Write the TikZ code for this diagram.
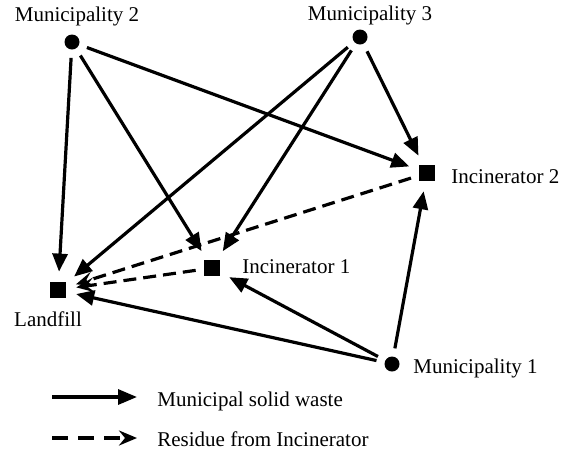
\documentclass[tikz,border=0pt]{standalone}
\usepackage{fontspec}
\setmainfont{Liberation Serif}
\usetikzlibrary{arrows.meta}
\begin{document}
\begin{tikzpicture}[x=0.5pt,y=-0.5pt,
  every node/.style={font=\fontsize{10.5}{12.6}\selectfont},
  dot/.style={circle,fill=black,minimum size=7.5pt,inner sep=0pt},
  sq/.style={rectangle,fill=black,minimum size=8pt,inner sep=0pt},
  lbl/.style={inner sep=0pt},
  msw/.style={line width=1.6pt,-{Triangle[length=9pt,width=7.5pt]},shorten >=5pt,shorten <=4pt},
  res/.style={line width=1.6pt,dash pattern=on 6.5pt off 3.5pt,-{Stealth[length=9pt,width=7.5pt,inset=4pt]},shorten >=5pt,shorten <=4pt}]
\useasboundingbox (0,0) rectangle (566,451);
% nodes
\node[dot] (m2) at (72,42) {};
\node[dot] (m3) at (360,37) {};
\node[dot] (m1) at (392,364) {};
\node[sq] (i2) at (427,173) {};
\node[sq] (i1) at (212,268) {};
\node[sq] (lf) at (58,290) {};
% labels
\node[lbl,anchor=base] (m2l) at (77,21) {Municipality 2};
\node[lbl,anchor=base] (m3l) at (370,20) {Municipality 3};
\node[lbl,anchor=base west] (m1l) at (413,373) {Municipality 1};
\node[lbl,anchor=base west] (i2l) at (451,183) {Incinerator 2};
\node[lbl,anchor=base west] (i1l) at (242,273) {Incinerator 1};
\node[lbl,anchor=base] (lfl) at (48,326) {Landfill};
% solid flows
\draw[msw] (m2) -- (lf);
\draw[msw] (m2) -- (i1);
\draw[msw] (m2) -- (i2);
\draw[msw] (m3) -- (lf);
\draw[msw] (m3) -- (i1);
\draw[msw] (m3) -- (i2);
\draw[msw] (m1) -- (lf);
\draw[msw] (m1) -- (i1);
\draw[msw] (m1) -- (i2);
% residue flows
\draw[res] (i2) -- (lf);
\draw[res] (i1) -- (lf);
% legend
\coordinate (a1) at (52,397);
\coordinate (b1) at (137,397);
\coordinate (a2) at (52,438);
\coordinate (b2) at (137,438);
\draw[line width=1.6pt,-{Triangle[length=9.5pt,width=7.5pt]}] (a1) -- (b1);
\draw[line width=1.6pt,dash pattern=on 8pt off 5pt,-{Stealth[length=9pt,width=7.5pt,inset=3pt]}] (a2) -- (b2);
\node[lbl,anchor=base west] (t1) at (157,406) {Municipal solid waste};
\node[lbl,anchor=base west] (t2) at (157,446) {Residue from Incinerator};
\end{tikzpicture}
\end{document}
